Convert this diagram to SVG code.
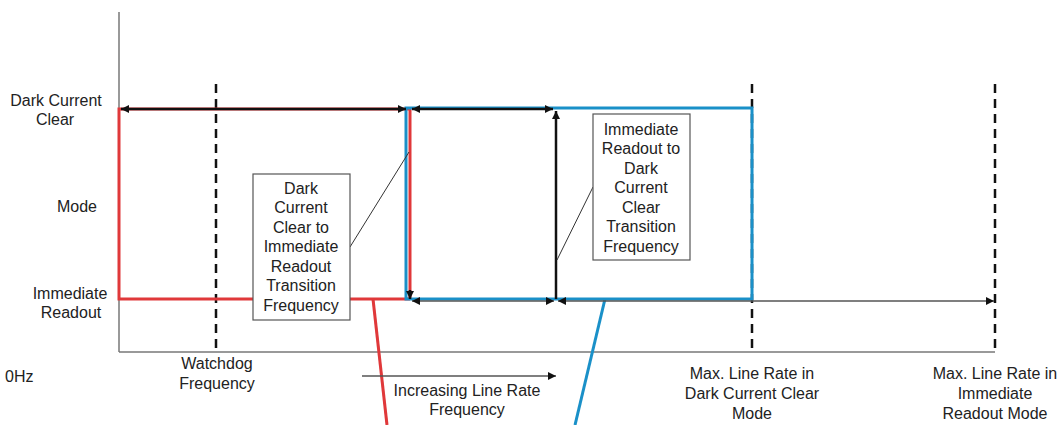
<svg xmlns="http://www.w3.org/2000/svg" width="1061" height="425" viewBox="0 0 1061 425">
<style>
text{font-family:"Liberation Sans",Arial,sans-serif;font-size:16px;fill:#222}
.c{text-anchor:middle}
.dash{stroke:#111;stroke-width:2.5;stroke-dasharray:9,6;fill:none}
.axis{stroke:#777;stroke-width:1.5;fill:none}
.red{stroke:#e0383a;stroke-width:3;fill:none}
.blue{stroke:#1a90c8;stroke-width:3;fill:none}
.blk{stroke:#111;stroke-width:2.5;fill:none}
.thin{stroke:#555;stroke-width:1.3;fill:none}
.box{fill:#fff;stroke:#555;stroke-width:1.2}
.lead{stroke:#333;stroke-width:1;fill:none}
</style>
<defs>
<marker id="ahs" viewBox="0 0 10 10" refX="10" refY="5" markerWidth="10" markerHeight="8" orient="auto-start-reverse" markerUnits="userSpaceOnUse"><path d="M0,0L10,5L0,10z" fill="#111"/></marker>
</defs>
<g id="axes">
<line class="axis" x1="119" y1="12" x2="119" y2="352"/>
<line class="axis" x1="119" y1="352" x2="995" y2="352"/>
<line class="dash" x1="216" y1="84" x2="216" y2="352"/>
<line class="dash" x1="752" y1="84" x2="752" y2="352"/>
<line class="dash" x1="995" y1="84" x2="995" y2="352"/>
</g>
<g id="red-curve">
<polyline class="red" points="410,109 119,109 119,299 410,299"/>
<line class="red" x1="410" y1="109" x2="410" y2="299"/>
<line class="red" x1="373" y1="299" x2="387" y2="425"/>
</g>
<g id="blue-curve">
<rect class="blue" x="406" y="108" width="346" height="191"/>
<line class="blue" x1="605" y1="299" x2="575" y2="425"/>
</g>
<g id="connectors">
<line class="blk" x1="121" y1="109" x2="406" y2="109" marker-start="url(#ahs)" marker-end="url(#ahs)"/>
<line class="blk" x1="412" y1="109" x2="553" y2="109" marker-start="url(#ahs)" marker-end="url(#ahs)"/>
<line class="blk" x1="556" y1="299" x2="556" y2="111" stroke-width="3.5" marker-end="url(#ahs)"/>
<line class="blk" x1="410" y1="290" x2="410" y2="299" stroke="#e0383a" marker-end="url(#ahs)"/>
<line class="thin" x1="412" y1="301" x2="554" y2="301" marker-start="url(#ahs)" marker-end="url(#ahs)"/>
<line class="thin" x1="558" y1="301" x2="994" y2="301" marker-start="url(#ahs)" marker-end="url(#ahs)"/>
<line class="thin" x1="362" y1="376" x2="556" y2="376" marker-end="url(#ahs)"/>
</g>
<g id="callout-1">
<line class="lead" x1="350" y1="247" x2="409" y2="152"/>
<rect class="box" x="253" y="174" width="97" height="146"/>
<text class="c" x="301" y="194">Dark</text>
<text class="c" x="301" y="213">Current</text>
<text class="c" x="301" y="233">Clear to</text>
<text class="c" x="301" y="252">Immediate</text>
<text class="c" x="301" y="272">Readout</text>
<text class="c" x="301" y="291">Transition</text>
<text class="c" x="301" y="311">Frequency</text>
</g>
<g id="callout-2">
<line class="lead" x1="593" y1="187" x2="557" y2="260"/>
<rect class="box" x="593" y="114" width="97" height="146"/>
<text class="c" x="641" y="135">Immediate</text>
<text class="c" x="641" y="154">Readout to</text>
<text class="c" x="641" y="174">Dark</text>
<text class="c" x="641" y="193">Current</text>
<text class="c" x="641" y="213">Clear</text>
<text class="c" x="641" y="232">Transition</text>
<text class="c" x="641" y="252">Frequency</text>
</g>
<g id="y-labels">
<text class="c" x="56" y="106">Dark Current</text>
<text class="c" x="55" y="125">Clear</text>
<text class="c" x="77" y="212">Mode</text>
<text class="c" x="70" y="299">Immediate</text>
<text class="c" x="71" y="318">Readout</text>
</g>
<g id="x-labels">
<text x="5" y="382">0Hz</text>
<text class="c" x="217" y="369">Watchdog</text>
<text class="c" x="217" y="389">Frequency</text>
<text class="c" x="467" y="396">Increasing Line Rate</text>
<text class="c" x="467" y="415">Frequency</text>
<text class="c" x="752" y="379">Max. Line Rate in</text>
<text class="c" x="752" y="399">Dark Current Clear</text>
<text class="c" x="752" y="419">Mode</text>
<text class="c" x="995" y="379">Max. Line Rate in</text>
<text class="c" x="995" y="399">Immediate</text>
<text class="c" x="995" y="419">Readout Mode</text>
</g>
</svg>
